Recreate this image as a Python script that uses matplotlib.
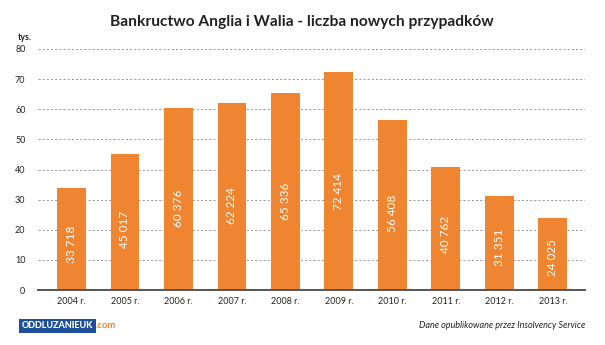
import matplotlib
matplotlib.use("Agg")
import matplotlib.pyplot as plt

years = ["2004 r.", "2005 r.", "2006 r.", "2007 r.", "2008 r.",
         "2009 r.", "2010 r.", "2011 r.", "2012 r.", "2013 r."]
cases = [33718, 45017, 60376, 62224, 65336, 72414, 56408, 40762, 31351, 24025]
y_ticks = [0, 10, 20, 30, 40, 50, 60, 70, 80]

plt.rcParams['font.family'] = ['Lato', 'DejaVu Sans']

ORANGE = "#EF8530"
TEXT = "#222222"

fig = plt.figure(figsize=(6.05, 3.45), dpi=100)
ax = fig.add_axes([38/605, 55/345, 547/605, 241/345])

x = list(range(len(years)))
vals = [v / 1000 for v in cases]
ax.bar(x, vals, width=0.54, color=ORANGE, zorder=3)

for xi, v, raw in zip(x, vals, cases):
    label = f"{raw:,}".replace(",", " ")
    ax.text(xi, v * 0.45, label, rotation=90, ha="center", va="center",
            color="white", fontsize=8.5, zorder=4)

ax.set_xlim(-0.626, 9.6)
ax.set_ylim(0, 80)
ax.set_yticks(y_ticks)
ax.set_xticks(x)
ax.set_xticklabels(years)
ax.tick_params(axis="both", length=0, labelsize=6.5, colors=TEXT)
ax.tick_params(axis="y", pad=9)
ax.tick_params(axis="x", pad=5)

ax.yaxis.grid(True, linestyle=(0, (2.5, 2.5)), color="#888888", linewidth=0.6)
ax.set_axisbelow(True)
for s in ["top", "right", "left"]:
    ax.spines[s].set_visible(False)
ax.spines["bottom"].set_color("#555555")
ax.spines["bottom"].set_linewidth(1.4)
ax.spines["bottom"].set_zorder(5)

fig.text(302/605, 1 - 22/345, "Bankructwo Anglia i Walia - liczba nowych przypadków",
         ha="center", va="center", fontsize=11.2, fontweight="bold", color=TEXT)
fig.text(18/605, 1 - 37/345, "tys.", ha="left", va="center", fontsize=6.3,
         fontweight="bold", color=TEXT)

# logo
fig.text(22/605, 1 - 326/345, "ODDLUZANIEUK", ha="left", va="center",
         fontsize=6.5, fontweight="black", color="white",
         bbox=dict(boxstyle="square,pad=0.3", fc="#1E4F9A", ec="none"))
fig.text(96/605, 1 - 326/345, ".com", ha="left", va="center",
         fontsize=6.8, color=ORANGE, fontweight="bold")

fig.text(585/605, 1 - 325/345, "Dane opublikowane przez Insolvency Service",
         ha="right", va="center", fontsize=6.5, style="italic", color=TEXT)

fig.savefig("out.png", dpi=100, facecolor="white")
